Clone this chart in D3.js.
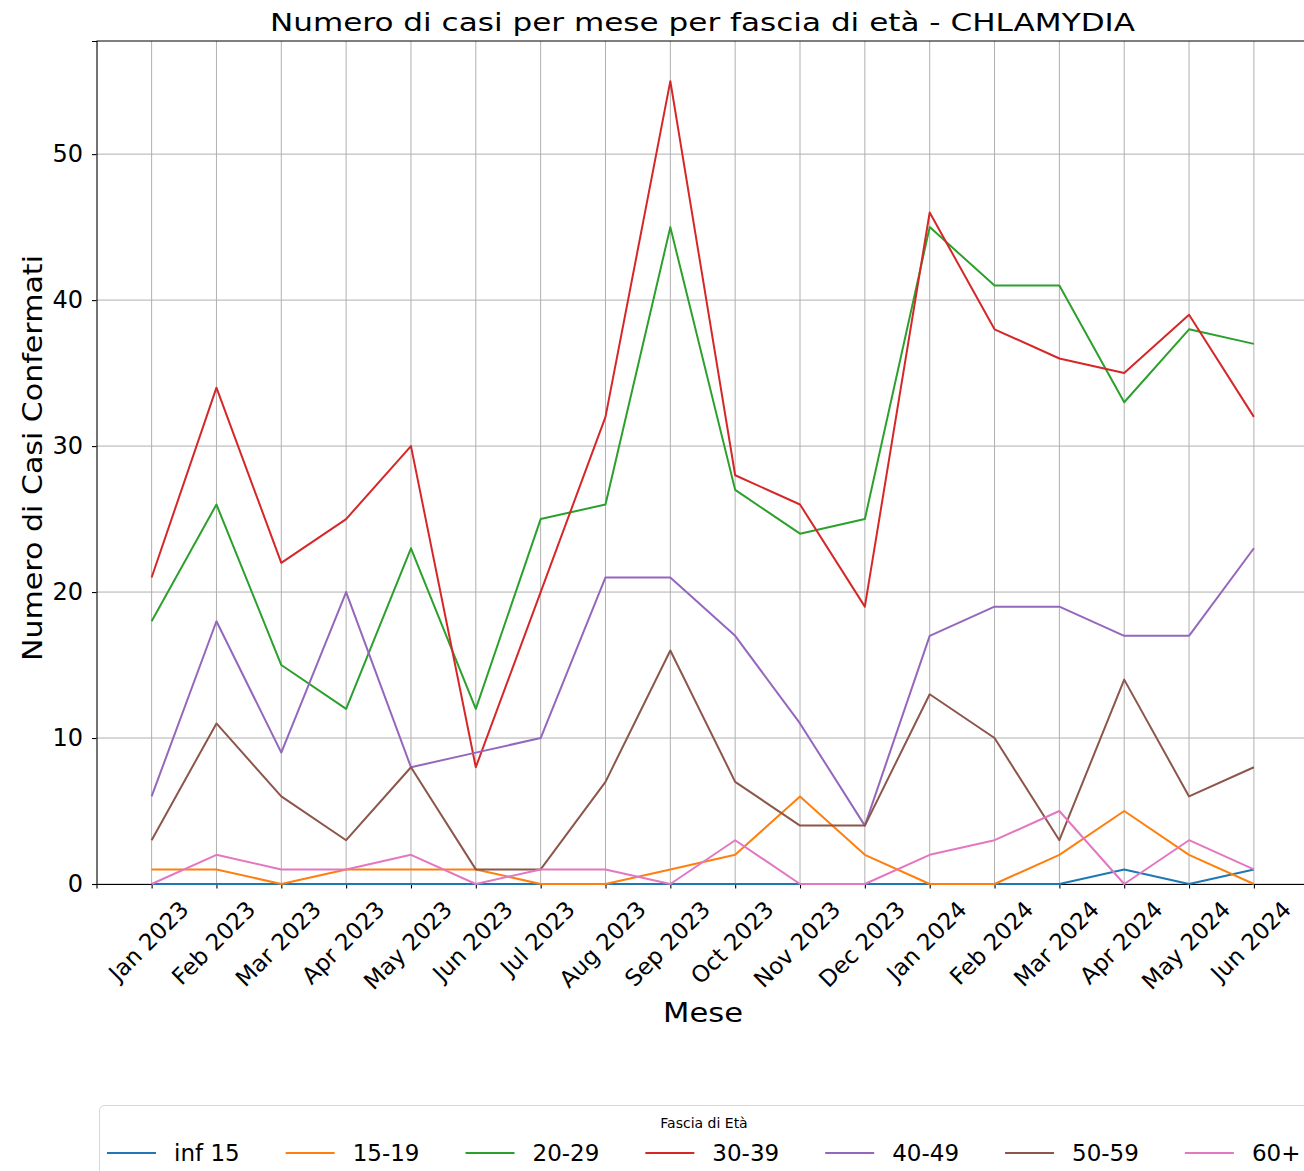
<!DOCTYPE html>
<html>
<head>
<meta charset="utf-8">
<script src="https://cdn.jsdelivr.net/npm/d3@7"></script>
<style>
  body { margin: 0; background: #fff; }
  svg { display: block; font-family: "DejaVu Sans", sans-serif; }
</style>
</head>
<body>
<svg id="chart" width="1304" height="1171"></svg>
<script>
// data
const months = ["Jan 2023","Feb 2023","Mar 2023","Apr 2023","May 2023","Jun 2023","Jul 2023","Aug 2023","Sep 2023",
  "Oct 2023","Nov 2023","Dec 2023","Jan 2024","Feb 2024","Mar 2024","Apr 2024","May 2024","Jun 2024"];
const ageGroups = ["inf 15","15-19","20-29","30-39","40-49","50-59","60+"];
const inf15  = [0,0,0,0,0,0,0,0,0,0,0,0,0,0,0,1,0,1];
const a15_19 = [1,1,0,1,1,1,0,0,1,2,6,2,0,0,2,5,2,0];
const a20_29 = [18,26,15,12,23,12,25,26,45,27,24,25,45,41,41,33,38,37];
const a30_39 = [21,34,22,25,30,8,20,32,55,28,26,19,46,38,36,35,39,32];
const a40_49 = [6,18,9,20,8,9,10,21,21,17,11,4,17,19,19,17,17,23];
const a50_59 = [3,11,6,3,8,1,1,7,16,7,4,4,13,10,3,14,6,8];
const a60p   = [0,2,1,1,2,0,1,1,0,3,0,0,2,3,5,0,3,1];
const yTicks = [0,10,20,30,40,50];

const series = [inf15, a15_19, a20_29, a30_39, a40_49, a50_59, a60p];
const colors = ["#1f77b4","#ff7f0e","#2ca02c","#d62728","#9467bd","#8c564b","#e377c2"];

const svg = d3.select("#chart");
const margin = {left: 96.5, top: 41, bottom: 884};
const rightEdge = 1309; // axes run a bit past the visible area

const x = d3.scaleLinear()
  .domain([-0.85, months.length - 1 + 0.85])
  .range([margin.left, rightEdge]);
const y = d3.scaleLinear()
  .domain([0, 57.75])
  .range([margin.bottom, margin.top]);

// grid
const grid = svg.append("g").attr("stroke", "#b0b0b0").attr("stroke-width", 1);
grid.selectAll(".gx").data(months).join("line")
  .attr("x1", (d, i) => x(i)).attr("x2", (d, i) => x(i))
  .attr("y1", margin.top).attr("y2", margin.bottom);
grid.selectAll(".gy").data(yTicks).join("line")
  .attr("x1", margin.left).attr("x2", rightEdge)
  .attr("y1", d => y(d)).attr("y2", d => y(d));

// axes
const xAxis = svg.append("g").attr("transform", `translate(0,${margin.bottom})`)
  .call(d3.axisBottom(x).tickValues(d3.range(months.length)).tickSize(4.5).tickFormat(""));
const yAxis = svg.append("g").attr("transform", `translate(${margin.left},0)`)
  .call(d3.axisLeft(y).tickValues(yTicks).tickSize(4.5).tickPadding(9));
[xAxis, yAxis].forEach(g => {
  g.select(".domain").attr("stroke", "#000").attr("stroke-width", 1.1);
  g.selectAll(".tick line").attr("stroke", "#000").attr("stroke-width", 1.1);
});
yAxis.selectAll(".tick text").attr("font-size", 24).attr("fill", "#000")
  .attr("font-family", "DejaVu Sans");
svg.append("line").attr("x1", margin.left).attr("x2", rightEdge)
  .attr("y1", margin.top).attr("y2", margin.top)
  .attr("stroke", "#000").attr("stroke-width", 1.1);

// lines (on top so the zero values stay visible)
const line = d3.line().x((d, i) => x(i)).y(d => y(d));
svg.append("g").selectAll("path").data(series).join("path")
  .attr("d", line)
  .attr("fill", "none")
  .attr("stroke", (d, i) => colors[i])
  .attr("stroke-width", 2)
  .attr("stroke-linejoin", "round");

// rotated month labels
const xFont = 23;
svg.append("g").selectAll("text").data(months).join("text")
  .text(d => d)
  .attr("font-size", xFont)
  .attr("text-anchor", "middle")
  .attr("dominant-baseline", "central")
  .attr("fill", "#000")
  .attr("transform", function(d, i) {
    const L = this.getComputedTextLength();
    const half = (L + xFont * 1.0) * Math.SQRT1_2 / 2;
    return `translate(${x(i) - 3},${margin.bottom + 13 + half}) rotate(-45)`;
  });

// title and axis labels
svg.append("text").attr("x", 702.5).attr("y", 30.5)
  .attr("text-anchor", "middle").attr("font-size", 25.5)
  .attr("textLength", 865).attr("lengthAdjust", "spacingAndGlyphs")
  .text("Numero di casi per mese per fascia di età - CHLAMYDIA");
svg.append("text").attr("x", 703).attr("y", 1022)
  .attr("text-anchor", "middle").attr("font-size", 26)
  .attr("textLength", 80).attr("lengthAdjust", "spacingAndGlyphs")
  .text("Mese");
svg.append("text")
  .attr("transform", `translate(42,458) rotate(-90)`)
  .attr("text-anchor", "middle").attr("font-size", 26)
  .attr("textLength", 406).attr("lengthAdjust", "spacingAndGlyphs")
  .text("Numero di Casi Confermati");

// legend
const leg = svg.append("g");
leg.append("rect")
  .attr("x", 99.5).attr("y", 1105.5).attr("width", 1210).attr("height", 100)
  .attr("rx", 5).attr("fill", "#fff").attr("fill-opacity", 0.8)
  .attr("stroke", "#d6d6d6").attr("stroke-width", 1);
leg.append("text").attr("x", 704).attr("y", 1123)
  .attr("text-anchor", "middle").attr("dominant-baseline", "central")
  .attr("font-size", 14).text("Fascia di Età");
const legFont = 23;
let lx = 107;
ageGroups.forEach((name, i) => {
  leg.append("line")
    .attr("x1", lx).attr("x2", lx + 49)
    .attr("y1", 1153).attr("y2", 1153)
    .attr("stroke", colors[i]).attr("stroke-width", 2);
  const t = leg.append("text")
    .attr("x", lx + 67).attr("y", 1153)
    .attr("dominant-baseline", "central")
    .attr("font-size", legFont).text(name);
  lx += 67 + t.node().getComputedTextLength() + 46;
});
</script>
</body>
</html>
